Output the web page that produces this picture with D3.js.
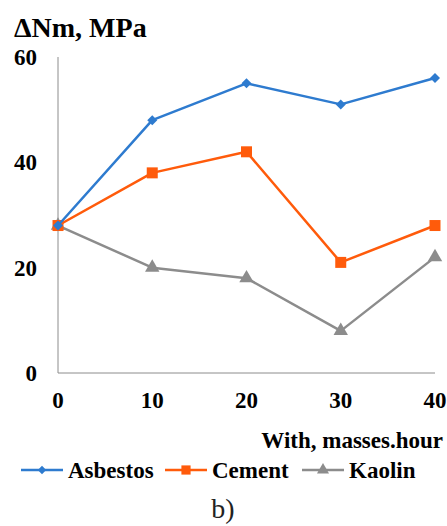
<!DOCTYPE html>
<html><head><meta charset="utf-8">
<script src="https://cdn.jsdelivr.net/npm/d3@7"></script>
<style>body{margin:0;background:#fff;} svg{display:block;} .sf{font-family:"Liberation Serif","DejaVu Serif",serif;font-weight:bold;}</style>
</head><body>
<svg id="c" width="447" height="526"></svg>
<script>
const xValues = [0, 10, 20, 30, 40];
const asbestos = [28, 48, 55, 51, 56];
const cement = [28, 38, 42, 21, 28];
const kaolin = [28, 20, 18, 8, 22];
const yTicks = [0, 20, 40, 60];
const seriesNames = ["Asbestos", "Cement", "Kaolin"];
const seriesColors = ["#2E7BCF", "#FF5B0B", "#8C8C8C"];

const svg = d3.select("#c");
const x = d3.scaleLinear().domain([0, 40]).range([58, 435]);
const y = d3.scaleLinear().domain([0, 60]).range([373, 57]);

function marker(sel, k, s) {
  if (k === 0) {
    sel.append("path").attr("d", d3.symbol().type(d3.symbolSquare).size(50 * s)())
      .attr("transform", "rotate(45)").attr("fill", seriesColors[k]);
  } else if (k === 1) {
    sel.append("path").attr("d", d3.symbol().type(d3.symbolSquare).size(121 * s)())
      .attr("fill", seriesColors[k]);
  } else {
    sel.append("path").attr("d", d3.symbol().type(d3.symbolTriangle).size(90 * s)())
      .attr("fill", seriesColors[k]);
  }
}

svg.append("line").attr("x1", x(0)).attr("x2", x(0)).attr("y1", y(60)).attr("y2", y(0))
  .attr("stroke", "#8c8c8c").attr("stroke-width", 1);
svg.append("line").attr("x1", x(0)).attr("x2", x(40)).attr("y1", y(0)).attr("y2", y(0))
  .attr("stroke", "#8c8c8c").attr("stroke-width", 1);

svg.selectAll(".yt").data(yTicks).enter().append("text").attr("class", "sf")
  .attr("x", 37).attr("y", d => y(d) + 8)
  .attr("text-anchor", "end").attr("font-size", 23).text(d => d);

svg.selectAll(".xt").data(xValues).enter().append("text").attr("class", "sf")
  .attr("x", d => x(d)).attr("y", 408)
  .attr("text-anchor", "middle").attr("font-size", 23).text(d => d);

svg.append("text").attr("class", "sf").attr("x", 14).attr("y", 37)
  .attr("font-size", 28).text("ΔNm, MPa");
svg.append("text").attr("class", "sf").attr("x", 443).attr("y", 448).attr("text-anchor", "end")
  .attr("font-size", 23).text("With, masses.hour");

const allSeries = [asbestos, cement, kaolin];
const line = d3.line().x((d, i) => x(xValues[i])).y(d => y(d));
[2, 1, 0].forEach(k => {
  const g = svg.append("g");
  g.append("path").datum(allSeries[k]).attr("d", line).attr("fill", "none")
    .attr("stroke", seriesColors[k]).attr("stroke-width", 2.5).attr("stroke-linejoin", "round");
  g.selectAll("g.m").data(allSeries[k]).enter().append("g").attr("class", "m")
    .attr("transform", (d, i) => `translate(${x(xValues[i])},${y(d)})`)
    .each(function () { marker(d3.select(this), k, 1); });
});

const legX = [21, 165, 302];
seriesNames.forEach((n, k) => {
  const g = svg.append("g").attr("transform", `translate(${legX[k]},470)`);
  g.append("line").attr("x1", 0).attr("x2", 42).attr("y1", 0).attr("y2", 0)
    .attr("stroke", seriesColors[k]).attr("stroke-width", 2.5);
  const mg = g.append("g").attr("transform", "translate(21,0)");
  marker(mg, k, 0.7);
  g.append("text").attr("class", "sf").attr("x", 47).attr("y", 8)
    .attr("font-size", 23).text(n);
});

svg.append("text").attr("x", 223).attr("y", 518).attr("text-anchor", "middle")
  .attr("font-family", "'Liberation Serif', serif").attr("font-size", 28).attr("fill", "#222").text("b)");
</script>
</body></html>
